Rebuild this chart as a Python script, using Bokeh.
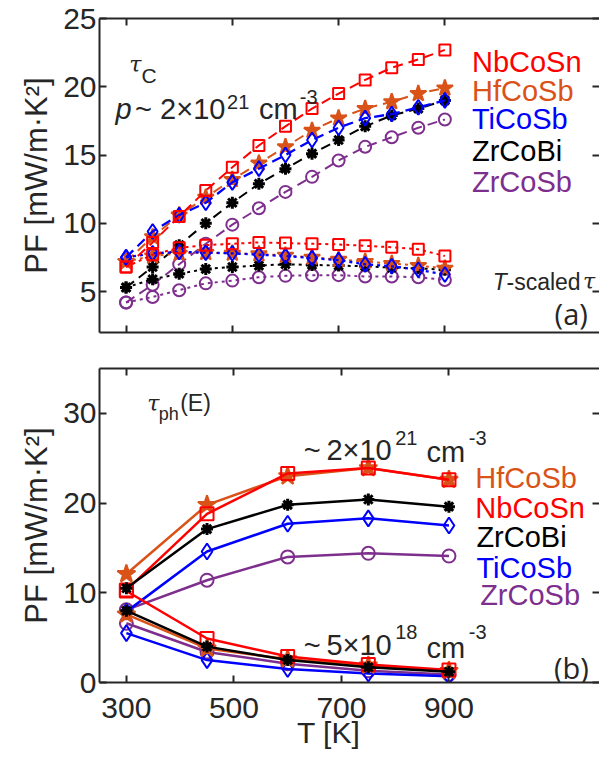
from bokeh.plotting import figure
from bokeh.models import Range1d, LinearAxis, FixedTicker, Label
from bokeh.layouts import column
from bokeh.embed import file_html
from bokeh.resources import INLINE

# ---------------- data ----------------
T_a = [300, 350, 400, 450, 500, 550, 600, 650, 700, 750, 800, 850, 900]

# panel (a): constant-relaxation-time (tau_C), p ~ 2e21 cm^-3  (dashed)
nbcosn_c = [6.8, 8.6, 10.5, 12.4, 14.1, 15.7, 17.1, 18.4, 19.5, 20.5, 21.4, 22.0, 22.7]
hfcosb_c = [7.2, 9.0, 10.6, 11.9, 13.2, 14.4, 15.6, 16.8, 17.7, 18.4, 18.9, 19.5, 19.9]
ticosb_c = [7.5, 9.4, 10.6, 11.5, 13.0, 14.0, 15.0, 16.1, 17.0, 17.7, 18.0, 18.5, 19.0]
zrcobi_c = [5.3, 6.8, 8.4, 10.0, 11.5, 12.9, 14.0, 15.1, 16.1, 17.1, 17.9, 18.4, 19.0]
zrcosb_c = [4.2, 5.5, 7.0, 8.5, 9.9, 11.1, 12.3, 13.4, 14.6, 15.6, 16.3, 17.0, 17.6]

# panel (a): T-scaled tau (dotted)
nbcosn_t = [6.8, 7.7, 8.2, 8.4, 8.5, 8.6, 8.55, 8.5, 8.45, 8.35, 8.25, 8.1, 7.6]
hfcosb_t = [7.2, 7.6, 7.8, 7.85, 7.8, 7.75, 7.65, 7.5, 7.35, 7.2, 7.05, 6.9, 6.7]
ticosb_t = [7.5, 7.8, 7.9, 7.85, 7.8, 7.7, 7.6, 7.45, 7.3, 7.0, 6.85, 6.6, 6.25]
zrcobi_t = [5.3, 5.9, 6.3, 6.65, 6.8, 6.9, 7.0, 6.95, 6.9, 6.85, 6.75, 6.7, 6.6]
zrcosb_t = [4.2, 4.6, 5.1, 5.6, 5.8, 6.05, 6.15, 6.2, 6.2, 6.1, 6.1, 6.05, 5.85]

T_b = [300, 450, 600, 750, 900]
# panel (b): tau_ph(E), ~2e21 cm^-3
hfcosb_hi = [12.1, 19.8, 23.0, 23.9, 22.6]
nbcosn_hi = [10.3, 18.8, 23.3, 23.9, 22.6]
zrcobi_hi = [10.5, 17.1, 19.8, 20.4, 19.6]
ticosb_hi = [7.9, 14.6, 17.7, 18.3, 17.5]
zrcosb_hi = [8.1, 11.4, 14.0, 14.4, 14.1]
# panel (b): ~5e18 cm^-3
hfcosb_lo = [7.6, 3.8, 2.6, 1.9, 1.3]
nbcosn_lo = [10.2, 4.9, 2.9, 2.0, 1.4]
zrcobi_lo = [8.0, 4.0, 2.5, 1.7, 1.2]
ticosb_lo = [5.5, 2.5, 1.5, 1.0, 0.7]
zrcosb_lo = [6.6, 3.4, 2.1, 1.3, 0.9]

x_ticks = [300, 500, 700, 900]
ya_ticks = [5, 10, 15, 20, 25]
yb_ticks = [0, 10, 20, 30]

RED = "#ff0000"
ORANGE = "#d95319"
BLUE = "#0000ff"
BLACK = "#000000"
PURPLE = "#7e2f8e"
AX = "#262626"
FONT = "Liberation Sans"


def blank(ticks):
    return {t: "" for t in ticks}


def style_axes(p, xt, yt, show_xlabels):
    p.outline_line_color = None
    p.xgrid.visible = False
    p.ygrid.visible = False
    for ax in p.xaxis + p.yaxis:
        ax.axis_line_color = AX
        ax.axis_line_width = 2
        ax.major_tick_line_color = AX
        ax.major_tick_line_width = 2
        ax.major_tick_in = 7
        ax.major_tick_out = 0
        ax.minor_tick_line_color = None
        ax.major_label_text_font = FONT
        ax.major_label_text_font_size = "30px"
        ax.major_label_text_color = AX
    p.xaxis.ticker = FixedTicker(ticks=xt)
    p.yaxis.ticker = FixedTicker(ticks=yt)
    p.yaxis.major_label_standoff = 3
    p.yaxis.axis_label = "PF [mW/m\u00b7K\u00b2]"
    p.yaxis.axis_label_text_font = FONT
    p.yaxis.axis_label_text_font_size = "31px"
    p.yaxis.axis_label_text_font_style = "normal"
    p.yaxis.axis_label_text_color = AX
    p.yaxis.axis_label_standoff = 6
    if show_xlabels:
        p.xaxis.major_label_standoff = 15
        p.xaxis.axis_label = "T [K]" + "\u00a0" * 5
        p.xaxis.axis_label_text_font = FONT
        p.xaxis.axis_label_text_font_size = "30px"
        p.xaxis.axis_label_text_font_style = "normal"
        p.xaxis.axis_label_text_color = AX
        p.xaxis.axis_label_standoff = -5
    else:
        p.xaxis.major_label_overrides = blank(xt)
        p.xaxis.major_label_standoff = 0
    top = LinearAxis(ticker=FixedTicker(ticks=xt), axis_line_color=AX, axis_line_width=2,
                     major_tick_line_color=AX, major_tick_line_width=2, major_tick_in=7,
                     major_tick_out=0, minor_tick_line_color=None,
                     major_label_overrides=blank(xt), major_label_standoff=0)
    right = LinearAxis(ticker=FixedTicker(ticks=yt), axis_line_color=None,
                       major_tick_line_color=AX, major_tick_line_width=2, major_tick_in=7,
                       major_tick_out=0, minor_tick_line_color=None,
                       major_label_overrides=blank(yt), major_label_standoff=0)
    p.add_layout(top, "above")
    p.add_layout(right, "right")


def txt(p, x, y, s, size, color=AX, style="normal", font=FONT, align="left"):
    p.add_layout(Label(x=x, y=y, text=s, text_font=font, text_font_size=f"{size}px",
                       text_font_style=style, text_color=color, text_align=align,
                       text_baseline="alphabetic"))


def series(p, x, y, color, marker, size, dash, lw, fill=None):
    p.line(x, y, line_color=color, line_width=lw, line_dash=dash)
    if marker == "asterisk":
        p.scatter(x, y, marker="circle", size=size * 0.55, fill_color=color, line_color=color)
        p.scatter(x, y, marker="asterisk", size=size, line_color=color, line_width=3)
    else:
        p.scatter(x, y, marker=marker, size=size, line_color=color, line_width=2,
                  fill_color=fill)


# ---------------- panel (a) ----------------
pa = figure(width=599, height=350, x_range=Range1d(250, 1191), y_range=Range1d(2, 25),
            output_backend="svg", toolbar_location=None,
            min_border_left=97, min_border_right=0, min_border_top=18, min_border_bottom=18)
style_axes(pa, x_ticks, ya_ticks, False)

DASH = "10 6"
DOT = "3 4"
for yv, dash in ((zrcosb_t, DOT), (zrcosb_c, DASH)):
    series(pa, T_a, yv, PURPLE, "circle", 12, dash, 2)
for yv, dash in ((zrcobi_t, DOT), (zrcobi_c, DASH)):
    series(pa, T_a, yv, BLACK, "asterisk", 12, dash, 2)
for yv, dash in ((hfcosb_t, DOT), (hfcosb_c, DASH)):
    series(pa, T_a, yv, ORANGE, "star", 17, dash, 2, fill=ORANGE)
for yv, dash in ((ticosb_t, DOT), (ticosb_c, DASH)):
    series(pa, T_a, yv, BLUE, "diamond", 15, dash, 2.3)
for yv, dash in ((nbcosn_t, DOT), (nbcosn_c, DASH)):
    series(pa, T_a, yv, RED, "square", 11, dash, 2)

# annotations (a)  (x in K, y in PF units)
txt(pa, 306, 21.6, "\u03c4", 22, style="italic", font="DejaVu Serif")
txt(pa, 329, 20.85, "C", 21)
txt(pa, 280, 18.37, "p", 29, style="italic")
txt(pa, 317, 18.37, "~", 29)
txt(pa, 364, 18.37, "2\u00d710", 29)
txt(pa, 490, 18.9, "21", 20)
txt(pa, 550, 18.37, "cm", 29)
txt(pa, 627, 19.25, "-3", 20)

leg_a = [("NbCoSn", RED, 21.8), ("HfCoSb", ORANGE, 19.68), ("TiCoSb", BLUE, 17.63),
         ("ZrCoBi", BLACK, 15.29), ("ZrCoSb", PURPLE, 13.02)]
for name, col, yy in leg_a:
    txt(pa, 951, yy, name, 29, color=col)

txt(pa, 990, 5.71, "T", 23, style="italic")
txt(pa, 1016, 5.71, "-scaled", 23)
txt(pa, 1160, 5.71, "\u03c4", 22, style="italic", font="DejaVu Serif")
txt(pa, 1169, 3.37, "(a)", 29, align="right", font="Open Sans")

# ---------------- panel (b) ----------------
pb = figure(width=599, height=410, x_range=Range1d(250, 1180), y_range=Range1d(0, 35),
            output_backend="svg", toolbar_location=None,
            min_border_left=99, min_border_right=0, min_border_top=18, min_border_bottom=78)
style_axes(pb, x_ticks, yb_ticks, True)

LW = 2.5
series(pb, T_b, zrcosb_hi, PURPLE, "circle", 13, "solid", LW)
series(pb, T_b, zrcosb_lo, PURPLE, "circle", 13, "solid", LW)
series(pb, T_b, ticosb_hi, BLUE, "diamond", 16, "solid", LW)
series(pb, T_b, ticosb_lo, BLUE, "diamond", 16, "solid", LW)
series(pb, T_b, hfcosb_hi, ORANGE, "star", 19, "solid", LW, fill=ORANGE)
series(pb, T_b, hfcosb_lo, ORANGE, "star", 19, "solid", LW, fill=ORANGE)
series(pb, T_b, nbcosn_hi, RED, "square", 13, "solid", LW)
series(pb, T_b, nbcosn_lo, RED, "square", 13, "solid", LW)
series(pb, T_b, zrcobi_hi, BLACK, "asterisk", 12, "solid", LW)
series(pb, T_b, zrcobi_lo, BLACK, "asterisk", 12, "solid", LW)

txt(pb, 339, 31.1, "\u03c4", 22, style="italic", font="DejaVu Serif")
txt(pb, 360, 29.9, "ph", 18)
txt(pb, 400, 31.1, "(E)", 23)

txt(pb, 630, 25.87, "~", 29)
txt(pb, 672, 25.87, "2\u00d710", 29)
txt(pb, 800, 27.3, "21", 20)
txt(pb, 858, 25.65, "cm", 29)
txt(pb, 937, 27.3, "-3", 20)

txt(pb, 630, 4.13, "~", 29)
txt(pb, 672, 4.13, "5\u00d710", 29)
txt(pb, 800, 5.6, "18", 20)
txt(pb, 858, 3.9, "cm", 29)
txt(pb, 937, 5.6, "-3", 20)

leg_b = [("HfCoSb", ORANGE, 949, 22.75), ("NbCoSn", RED, 949, 19.5), ("ZrCoBi", BLACK, 951, 16.2),
         ("TiCoSb", BLUE, 951, 12.8), ("ZrCoSb", PURPLE, 958, 9.7)]
for name, col, xx, yy in leg_b:
    txt(pb, xx, yy, name, 29, color=col)

txt(pb, 1160, 1.67, "(b)", 29, align="right", font="Open Sans")

layout = column(pa, pb)
open("out.html", "w").write(file_html(layout, INLINE))
